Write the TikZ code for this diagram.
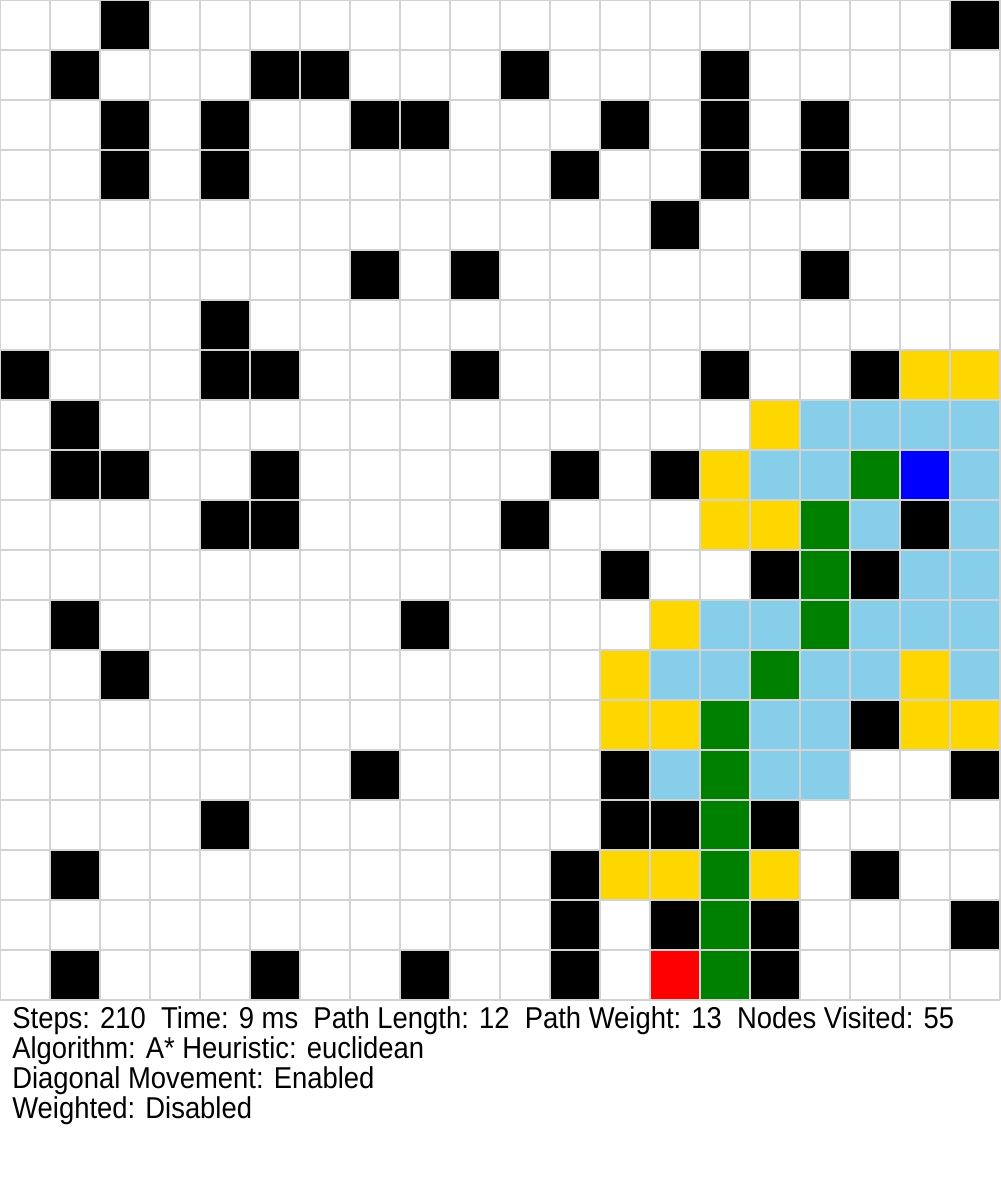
\documentclass[tikz,border=0pt]{standalone}
\usepackage{fontspec}
\setmainfont{Liberation Sans}
\usepackage{graphicx}
\usetikzlibrary{positioning}
\definecolor{WallBlack}{HTML}{000000}
\definecolor{OpenGold}{HTML}{FFD700}
\definecolor{ClosedSky}{HTML}{87CEEB}
\definecolor{PathGreen}{HTML}{008000}
\definecolor{StartRed}{HTML}{FF0000}
\definecolor{GoalBlue}{HTML}{0000FF}
\definecolor{GridGray}{HTML}{D3D3D3}

\tikzset{
  statline/.style={anchor=base west, inner sep=0pt, font=\fontsize{15.6}{18}\selectfont, text=black}
}
\newcommand{\tallText}[1]{\scalebox{1}[1.1]{#1}}

\begin{document}
\begin{tikzpicture}[x=1cm, y=-1cm]
    \useasboundingbox (0,0) rectangle (20,24);
    \fill[white] (0,0) rectangle (20,24);

    % 1. Walls
    \foreach \c/\r in {2/0,19/0, 1/1,5/1,6/1,10/1,14/1,
        2/2,4/2,7/2,8/2,12/2,14/2,16/2, 2/3,4/3,11/3,14/3,16/3,
        13/4, 7/5,9/5,16/5, 4/6, 0/7,4/7,5/7,9/7,14/7,17/7, 1/8,
        1/9,2/9,5/9,11/9,13/9, 4/10,5/10,10/10,18/10, 12/11,15/11,17/11,
        1/12,8/12, 2/13, 17/14, 7/15,12/15,19/15, 4/16,12/16,13/16,15/16,
        1/17,11/17,17/17, 11/18,13/18,15/18,19/18, 1/19,5/19,8/19,11/19,15/19}
        \fill[WallBlack] (\c,\r) rectangle ++(1,1);

    % 2. Open set
    \foreach \c/\r in {18/7,19/7,15/8,14/9,14/10,15/10,13/12,12/13,18/13,
        12/14,13/14,18/14,19/14,12/17,13/17,15/17}
        \fill[OpenGold] (\c,\r) rectangle ++(1,1);

    % 3. Closed set
    \foreach \c/\r in {16/8,17/8,18/8,19/8,15/9,16/9,19/9,17/10,19/10,18/11,19/11,
        14/12,15/12,17/12,18/12,19/12,13/13,14/13,16/13,17/13,19/13,
        15/14,16/14,13/15,15/15,16/15}
        \fill[ClosedSky] (\c,\r) rectangle ++(1,1);

    % 4. Path, start and goal
    \foreach \c/\r in {17/9,16/10,16/11,16/12,15/13,14/14,14/15,14/16,14/17,14/18,14/19}
        \fill[PathGreen] (\c,\r) rectangle ++(1,1);
    \fill[StartRed] (13,19) rectangle ++(1,1);
    \fill[GoalBlue] (18,9) rectangle ++(1,1);

    % 5. Grid lines
    \draw[GridGray, line width=0.04cm] (0,0) grid (20,20);

    % 6. Stats
    \node[statline] (stats) at (0.24,20.57) {\tallText{Steps: 210~~Time: 9 ms~~Path Length: 12~~Path Weight: 13~~Nodes Visited: 55}};
    \node[statline] (algo) at (0.24,21.17) {\tallText{Algorithm: A* Heuristic: euclidean}};
    \node[statline] (diag) at (0.24,21.77) {\tallText{Diagonal Movement: Enabled}};
    \node[statline] (weight) at (0.24,22.36) {\tallText{Weighted: Disabled}};
\end{tikzpicture}
\end{document}
